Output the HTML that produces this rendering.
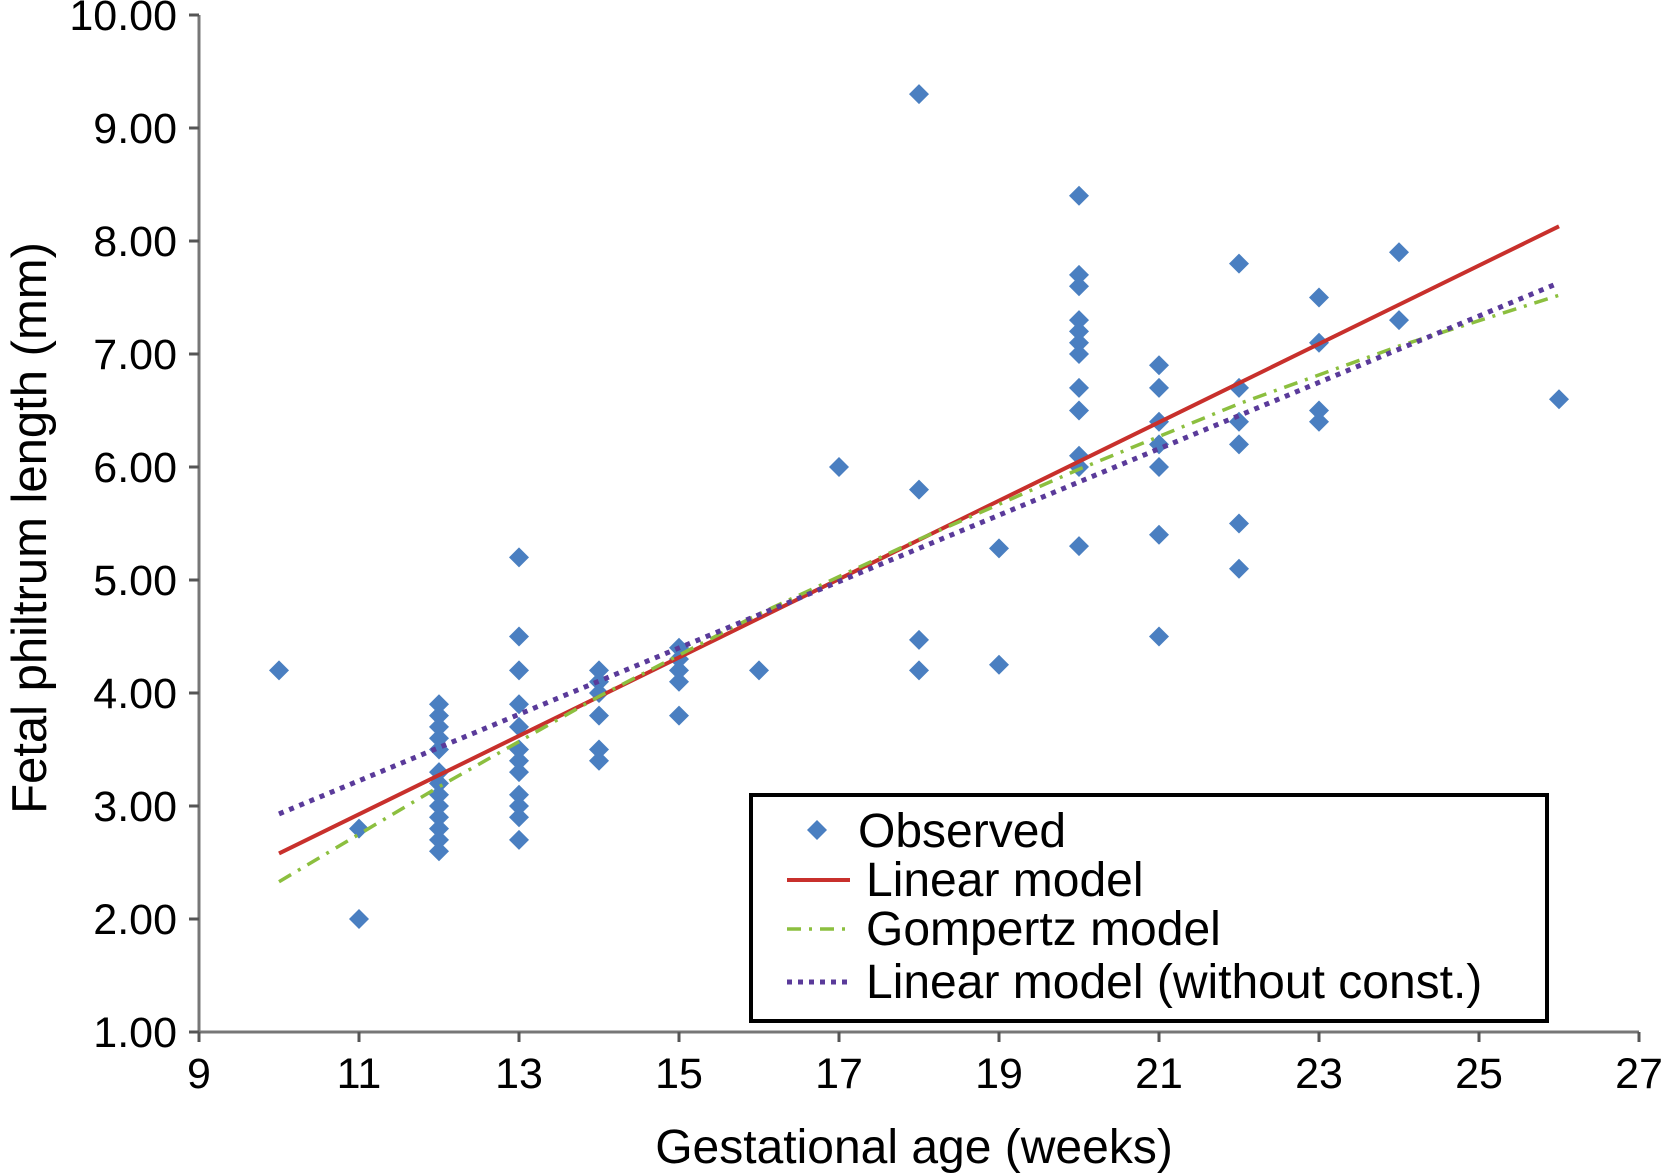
<!DOCTYPE html>
<html><head><meta charset="utf-8">
<style>
html,body{margin:0;padding:0;background:#fff;}
svg{display:block;font-family:"Liberation Sans",Arial,sans-serif;}
</style></head>
<body>
<svg id="chart" width="1662" height="1174" viewBox="0 0 1662 1174"></svg>
<script>
const xTicks = [9,11,13,15,17,19,21,23,25,27];
const yTicks = [1,2,3,4,5,6,7,8,9,10];
const obsWeeks = [10,11,11,
 12,12,12,12,12,12,12,12,12,12,12,12,12,
 13,13,13,13,13,13,13,13,13,13,13,13,
 14,14,14,14,14,14,
 15,15,15,15,15,
 16,17,18,18,18,18,19,19,
 20,20,20,20,20,20,20,20,20,20,20,20,
 21,21,21,21,21,21,21,
 22,22,22,22,22,22,
 23,23,23,23,24,24,26];
const obsLength = [4.2,2.8,2.0,
 3.9,3.8,3.7,3.6,3.5,3.3,3.2,3.1,3.0,2.9,2.8,2.7,2.6,
 5.2,4.5,4.2,3.9,3.7,3.5,3.4,3.3,3.1,3.0,2.9,2.7,
 4.2,4.1,4.0,3.8,3.5,3.4,
 4.4,4.3,4.2,4.1,3.8,
 4.2,6.0,9.3,5.8,4.47,4.2,5.28,4.25,
 8.4,7.7,7.6,7.3,7.2,7.1,7.0,6.7,6.5,6.1,6.0,5.3,
 6.9,6.7,6.4,6.2,6.0,5.4,4.5,
 7.8,6.7,6.4,6.2,5.5,5.1,
 7.5,7.1,6.5,6.4,7.9,7.3,6.6];
const linearWeeks = [10,26];
const linearValues = [2.58,8.13];
const gompWeeks = [10,12,14,16,18,20,22,24,26];
const gompValues = [2.33,3.17,3.97,4.70,5.36,5.98,6.56,7.07,7.52];
const noConstWeeks = [10,26];
const noConstValues = [2.93,7.63];

const NS="http://www.w3.org/2000/svg";
const svg=document.getElementById('chart');
const X0=199, XW=80, Y0=1032, YH=113.0;
const sx=v=>X0+(v-9)*XW;
const sy=v=>Y0-(v-1)*YH;
function mk(tag,attrs,parent){const e=document.createElementNS(NS,tag);for(const k in attrs)e.setAttribute(k,attrs[k]);(parent||svg).appendChild(e);return e;}

let ax=mk('line',{x1:X0,y1:sy(10),x2:X0,y2:Y0,stroke:'#777',"stroke-width":3});


let axx=mk('line',{x1:X0,y1:Y0,x2:sx(27),y2:Y0,stroke:'#777',"stroke-width":3});



yTicks.forEach(v=>{
  const y=sy(v);
  mk('line',{x1:X0-10,y1:y,x2:X0,y2:y,stroke:'#555',"stroke-width":3});
  const t=mk('text',{x:X0-22,y:y+15,"text-anchor":"end","font-size":43,fill:'#000'});
  t.textContent=v.toFixed(2);
  
  
});
xTicks.forEach(v=>{
  const x=sx(v);
  mk('line',{x1:X0,y1:Y0,x2:x,y2:Y0+10,stroke:'#555',"stroke-width":0});
  mk('line',{x1:x,y1:Y0,x2:x,y2:Y0+10,stroke:'#555',"stroke-width":3});
  const t=mk('text',{x:x,y:Y0+56,"text-anchor":"middle","font-size":43,fill:'#000'});
  t.textContent=v;
  
  
});

const yt=mk('text',{x:0,y:0,transform:'translate(46,528) rotate(-90)',"text-anchor":"middle","font-size":49,fill:'#000'});
yt.textContent='Fetal philtrum length (mm)';


const xt=mk('text',{x:914,y:1163,"text-anchor":"middle","font-size":48,fill:'#000'});
xt.textContent='Gestational age (weeks)';



function diamond(cx,cy,r,parent){return mk('path',{d:`M${cx} ${cy-r}L${cx+r} ${cy}L${cx} ${cy+r}L${cx-r} ${cy}Z`,fill:'#4a7fc1'},parent);}

const pg=mk('g',{});


obsWeeks.forEach((w,i)=>{
  const d=diamond(sx(w),sy(obsLength[i]),10,pg);
  
  
});

function poly(xs,ys,attrs){return mk('polyline',Object.assign({points:xs.map((w,i)=>sx(w)+','+sy(ys[i])).join(' '),fill:'none'},attrs));}
const l1=poly(linearWeeks,linearValues,{stroke:'#c8302c',"stroke-width":4});


const l2=poly(gompWeeks,gompValues,{stroke:'#8cbf3f',"stroke-width":3.5,"stroke-dasharray":"14 8 3 8"});


const l3=poly(noConstWeeks,noConstValues,{stroke:'#5a3a9a',"stroke-width":5,"stroke-dasharray":"5 6"});



const lg=mk('g',{});


mk('rect',{x:751,y:795,width:796,height:226,fill:'#fff',stroke:'#000',"stroke-width":4},lg);
const ld=diamond(817,830,10,lg);


mk('line',{x1:787,y1:880,x2:850,y2:880,stroke:'#c8302c',"stroke-width":4},lg);
mk('line',{x1:787,y1:929,x2:850,y2:929,stroke:'#8cbf3f',"stroke-width":3.5,"stroke-dasharray":"14 8 3 8"},lg);
mk('line',{x1:787,y1:982,x2:850,y2:982,stroke:'#5a3a9a',"stroke-width":5,"stroke-dasharray":"5 6"},lg);
[['Observed',847],['Linear model',896],['Gompertz model',945],['Linear model (without const.)',998]].forEach(([s,y],i)=>{
  const t=mk('text',{x:i==0?858:866,y:y,"font-size":48,fill:'#000'},lg);
  t.textContent=s;
  
  
});
</script>
</body></html>
